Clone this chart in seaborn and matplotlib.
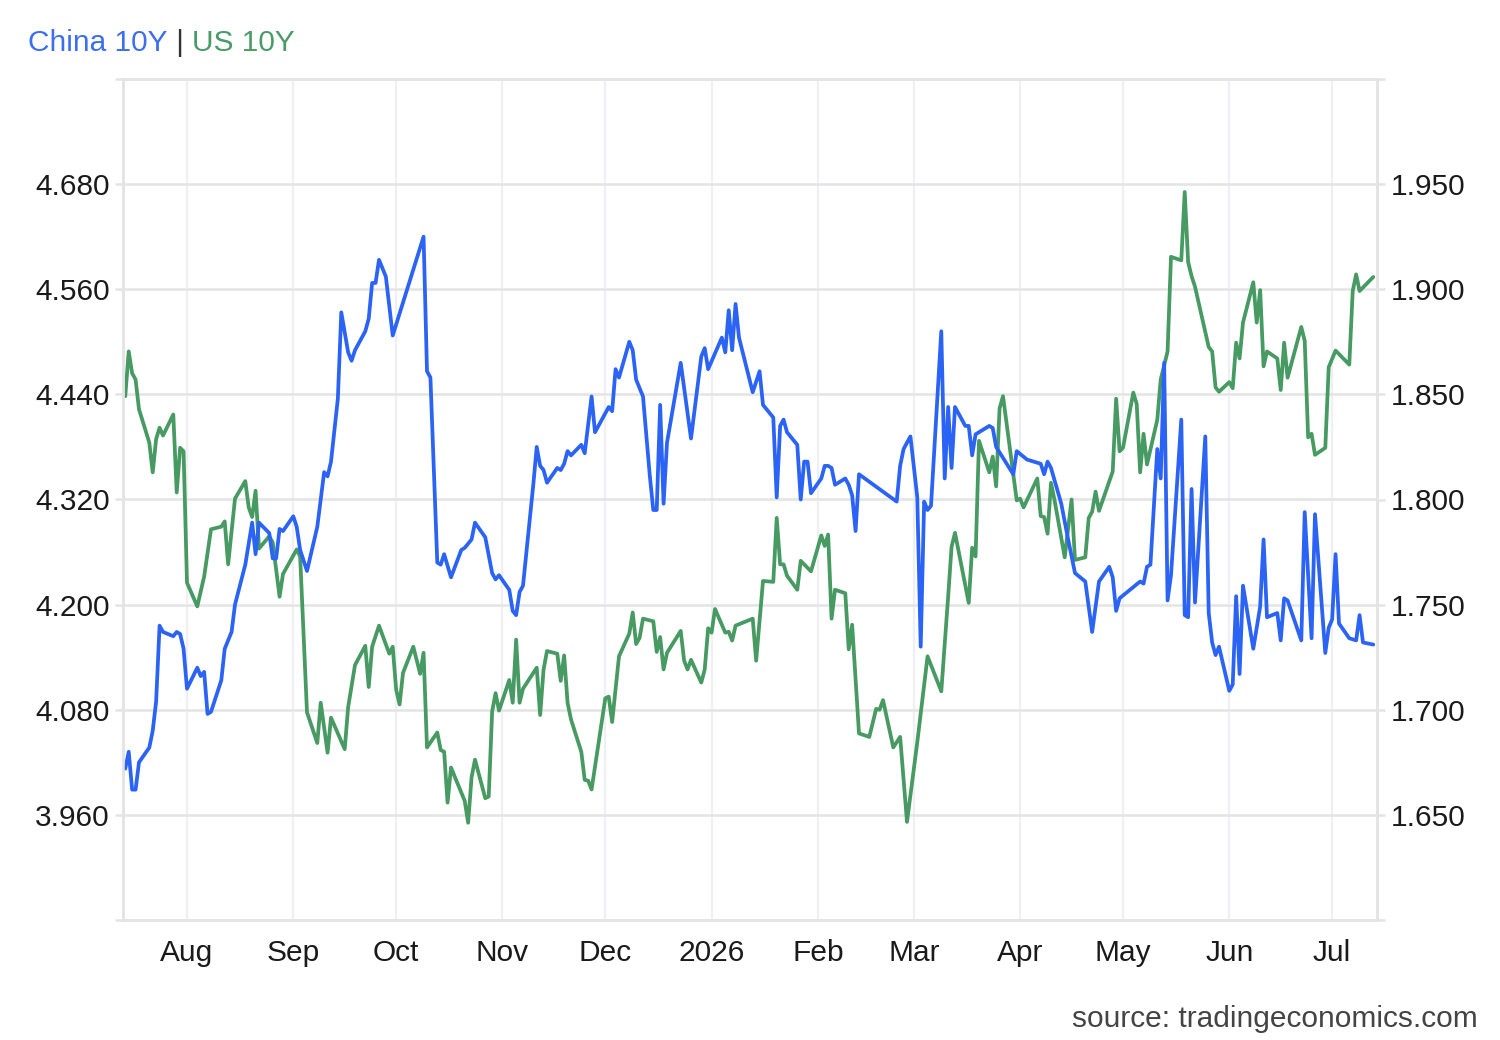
import matplotlib
matplotlib.use("Agg")
import matplotlib.pyplot as plt
import pandas as pd
import seaborn as sns

# ---------------- data ----------------
us_dates = [
    "2025-07-14", "2025-07-15", "2025-07-16", "2025-07-17", "2025-07-18", "2025-07-21", "2025-07-22",
    "2025-07-23", "2025-07-24", "2025-07-25", "2025-07-28", "2025-07-29", "2025-07-30", "2025-07-31",
    "2025-08-01", "2025-08-04", "2025-08-06", "2025-08-08", "2025-08-11", "2025-08-12", "2025-08-13",
    "2025-08-15", "2025-08-18", "2025-08-19", "2025-08-20", "2025-08-21", "2025-08-22", "2025-08-25",
    "2025-08-26", "2025-08-28", "2025-08-29", "2025-09-02", "2025-09-03", "2025-09-05", "2025-09-08",
    "2025-09-09", "2025-09-11", "2025-09-12", "2025-09-16", "2025-09-17", "2025-09-19", "2025-09-22",
    "2025-09-23", "2025-09-24", "2025-09-26", "2025-09-29", "2025-09-30", "2025-10-01", "2025-10-02",
    "2025-10-03", "2025-10-06", "2025-10-08", "2025-10-09", "2025-10-10", "2025-10-13", "2025-10-14",
    "2025-10-15", "2025-10-16", "2025-10-17", "2025-10-21", "2025-10-22", "2025-10-23", "2025-10-24",
    "2025-10-27", "2025-10-28", "2025-10-29", "2025-10-30", "2025-10-31", "2025-11-03", "2025-11-04",
    "2025-11-05", "2025-11-06", "2025-11-07", "2025-11-11", "2025-11-12", "2025-11-13", "2025-11-14",
    "2025-11-17", "2025-11-18", "2025-11-19", "2025-11-20", "2025-11-21", "2025-11-24", "2025-11-25",
    "2025-11-26", "2025-11-27", "2025-12-01", "2025-12-02", "2025-12-03", "2025-12-05", "2025-12-08",
    "2025-12-09", "2025-12-10", "2025-12-11", "2025-12-12", "2025-12-15", "2025-12-16", "2025-12-17",
    "2025-12-18", "2025-12-19", "2025-12-23", "2025-12-24", "2025-12-25", "2025-12-26", "2025-12-29",
    "2025-12-30", "2025-12-31", "2026-01-01", "2026-01-02", "2026-01-05", "2026-01-06", "2026-01-07",
    "2026-01-08", "2026-01-13", "2026-01-14", "2026-01-16", "2026-01-19", "2026-01-20", "2026-01-21",
    "2026-01-22", "2026-01-23", "2026-01-26", "2026-01-27", "2026-01-30", "2026-02-02", "2026-02-03",
    "2026-02-04", "2026-02-05", "2026-02-06", "2026-02-09", "2026-02-10", "2026-02-11", "2026-02-13",
    "2026-02-16", "2026-02-18", "2026-02-19", "2026-02-20", "2026-02-23", "2026-02-25", "2026-02-27",
    "2026-03-02", "2026-03-05", "2026-03-09", "2026-03-11", "2026-03-12", "2026-03-13", "2026-03-17",
    "2026-03-18", "2026-03-19", "2026-03-20", "2026-03-23", "2026-03-24", "2026-03-25", "2026-03-26",
    "2026-03-27", "2026-03-31", "2026-04-01", "2026-04-02", "2026-04-06", "2026-04-07", "2026-04-08",
    "2026-04-09", "2026-04-10", "2026-04-11", "2026-04-14", "2026-04-16", "2026-04-17", "2026-04-20",
    "2026-04-21", "2026-04-22", "2026-04-23", "2026-04-24", "2026-04-28", "2026-04-29", "2026-04-30",
    "2026-05-01", "2026-05-04", "2026-05-05", "2026-05-06", "2026-05-07", "2026-05-08", "2026-05-11",
    "2026-05-12", "2026-05-14", "2026-05-15", "2026-05-18", "2026-05-19", "2026-05-20", "2026-05-21",
    "2026-05-22", "2026-05-26", "2026-05-27", "2026-05-28", "2026-05-29", "2026-06-01", "2026-06-02",
    "2026-06-03", "2026-06-04", "2026-06-05", "2026-06-08", "2026-06-09", "2026-06-10", "2026-06-11",
    "2026-06-12", "2026-06-15", "2026-06-16", "2026-06-17", "2026-06-18", "2026-06-22", "2026-06-23",
    "2026-06-24", "2026-06-25", "2026-06-26", "2026-06-29", "2026-06-30", "2026-07-02", "2026-07-06",
    "2026-07-07", "2026-07-08", "2026-07-09", "2026-07-13",
]
us_values = [
    4.438, 4.489, 4.464, 4.457, 4.423, 4.385, 4.351,
    4.389, 4.402, 4.393, 4.417, 4.328, 4.379, 4.375,
    4.225, 4.198, 4.232, 4.286, 4.289, 4.295, 4.246,
    4.321, 4.341, 4.311, 4.300, 4.330, 4.264, 4.278,
    4.271, 4.209, 4.235, 4.263, 4.255, 4.077, 4.042,
    4.088, 4.031, 4.071, 4.035, 4.083, 4.131, 4.153,
    4.106, 4.152, 4.176, 4.144, 4.152, 4.103, 4.086,
    4.122, 4.152, 4.121, 4.145, 4.037, 4.054, 4.034,
    4.032, 3.974, 4.014, 3.976, 3.951, 4.003, 4.023,
    3.979, 3.981, 4.078, 4.099, 4.079, 4.114, 4.088,
    4.160, 4.088, 4.104, 4.128, 4.074, 4.126, 4.147,
    4.144, 4.113, 4.142, 4.088, 4.069, 4.032, 4.000,
    3.999, 3.989, 4.093, 4.095, 4.066, 4.141, 4.167,
    4.191, 4.155, 4.162, 4.184, 4.181, 4.146, 4.163,
    4.126, 4.145, 4.170, 4.136, 4.126, 4.137, 4.111,
    4.126, 4.173, 4.168, 4.195, 4.168, 4.169, 4.159,
    4.176, 4.184, 4.136, 4.227, 4.226, 4.299, 4.246,
    4.246, 4.233, 4.217, 4.250, 4.238, 4.279, 4.267,
    4.280, 4.184, 4.217, 4.213, 4.149, 4.177, 4.053,
    4.049, 4.081, 4.080, 4.091, 4.037, 4.049, 3.952,
    4.043, 4.141, 4.101, 4.209, 4.266, 4.282, 4.202,
    4.265, 4.255, 4.387, 4.351, 4.369, 4.335, 4.424,
    4.438, 4.319, 4.321, 4.311, 4.344, 4.301, 4.300,
    4.281, 4.339, 4.320, 4.254, 4.320, 4.251, 4.254,
    4.299, 4.306, 4.329, 4.307, 4.352, 4.435, 4.375,
    4.379, 4.442, 4.429, 4.351, 4.395, 4.360, 4.411,
    4.457, 4.489, 4.597, 4.593, 4.671, 4.591, 4.575,
    4.563, 4.494, 4.489, 4.448, 4.443, 4.454, 4.447,
    4.499, 4.481, 4.522, 4.568, 4.522, 4.559, 4.472,
    4.489, 4.481, 4.445, 4.499, 4.459, 4.517, 4.501,
    4.391, 4.395, 4.371, 4.379, 4.471, 4.490, 4.474,
    4.558, 4.577, 4.558, 4.574,
]

cn_dates = [
    "2025-07-14", "2025-07-15", "2025-07-16", "2025-07-17", "2025-07-18", "2025-07-21", "2025-07-22",
    "2025-07-23", "2025-07-24", "2025-07-25", "2025-07-28", "2025-07-29", "2025-07-30", "2025-07-31",
    "2025-08-01", "2025-08-04", "2025-08-05", "2025-08-06", "2025-08-07", "2025-08-08", "2025-08-11",
    "2025-08-12", "2025-08-13", "2025-08-14", "2025-08-15", "2025-08-18", "2025-08-20", "2025-08-21",
    "2025-08-22", "2025-08-25", "2025-08-26", "2025-08-27", "2025-08-28", "2025-08-29", "2025-09-01",
    "2025-09-02", "2025-09-03", "2025-09-05", "2025-09-08", "2025-09-10", "2025-09-11", "2025-09-12",
    "2025-09-14", "2025-09-15", "2025-09-17", "2025-09-18", "2025-09-19", "2025-09-22", "2025-09-23",
    "2025-09-24", "2025-09-25", "2025-09-26", "2025-09-28", "2025-09-30", "2025-10-09", "2025-10-10",
    "2025-10-11", "2025-10-13", "2025-10-14", "2025-10-15", "2025-10-17", "2025-10-20", "2025-10-21",
    "2025-10-23", "2025-10-24", "2025-10-27", "2025-10-29", "2025-10-30", "2025-10-31", "2025-11-03",
    "2025-11-04", "2025-11-05", "2025-11-06", "2025-11-07", "2025-11-10", "2025-11-11", "2025-11-12",
    "2025-11-13", "2025-11-14", "2025-11-17", "2025-11-18", "2025-11-19", "2025-11-20", "2025-11-21",
    "2025-11-24", "2025-11-25", "2025-11-27", "2025-11-28", "2025-12-02", "2025-12-03", "2025-12-04",
    "2025-12-05", "2025-12-08", "2025-12-09", "2025-12-10", "2025-12-12", "2025-12-14", "2025-12-15",
    "2025-12-16", "2025-12-17", "2025-12-18", "2025-12-19", "2025-12-23", "2025-12-26", "2025-12-29",
    "2025-12-30", "2025-12-31", "2026-01-04", "2026-01-05", "2026-01-06", "2026-01-07", "2026-01-08",
    "2026-01-09", "2026-01-13", "2026-01-15", "2026-01-16", "2026-01-19", "2026-01-20", "2026-01-21",
    "2026-01-22", "2026-01-23", "2026-01-26", "2026-01-27", "2026-01-28", "2026-01-29", "2026-01-30",
    "2026-02-02", "2026-02-03", "2026-02-04", "2026-02-05", "2026-02-06", "2026-02-09", "2026-02-10",
    "2026-02-11", "2026-02-12", "2026-02-13", "2026-02-24", "2026-02-25", "2026-02-26", "2026-02-28",
    "2026-03-02", "2026-03-03", "2026-03-04", "2026-03-05", "2026-03-06", "2026-03-09", "2026-03-10",
    "2026-03-11", "2026-03-12", "2026-03-13", "2026-03-16", "2026-03-17", "2026-03-18", "2026-03-19",
    "2026-03-23", "2026-03-24", "2026-03-25", "2026-03-30", "2026-03-31", "2026-04-03", "2026-04-07",
    "2026-04-08", "2026-04-09", "2026-04-10", "2026-04-13", "2026-04-15", "2026-04-17", "2026-04-20",
    "2026-04-22", "2026-04-24", "2026-04-27", "2026-04-28", "2026-04-29", "2026-04-30", "2026-05-06",
    "2026-05-07", "2026-05-08", "2026-05-09", "2026-05-11", "2026-05-12", "2026-05-13", "2026-05-14",
    "2026-05-15", "2026-05-18", "2026-05-19", "2026-05-20", "2026-05-21", "2026-05-22", "2026-05-25",
    "2026-05-26", "2026-05-27", "2026-05-28", "2026-05-29", "2026-06-01", "2026-06-02", "2026-06-03",
    "2026-06-04", "2026-06-05", "2026-06-08", "2026-06-10", "2026-06-11", "2026-06-12", "2026-06-15",
    "2026-06-16", "2026-06-17", "2026-06-18", "2026-06-22", "2026-06-23", "2026-06-25", "2026-06-26",
    "2026-06-29", "2026-06-30", "2026-07-01", "2026-07-02", "2026-07-03", "2026-07-06", "2026-07-08",
    "2026-07-09", "2026-07-10", "2026-07-13",
]
cn_values = [
    1.672, 1.680, 1.662, 1.662, 1.675, 1.682, 1.690,
    1.704, 1.740, 1.737, 1.735, 1.737, 1.736, 1.729,
    1.710, 1.720, 1.716, 1.718, 1.698, 1.699, 1.714,
    1.729, 1.733, 1.737, 1.750, 1.769, 1.789, 1.774,
    1.789, 1.784, 1.772, 1.772, 1.786, 1.785, 1.792,
    1.787, 1.776, 1.766, 1.787, 1.813, 1.811, 1.818,
    1.848, 1.889, 1.870, 1.866, 1.871, 1.880, 1.886,
    1.903, 1.903, 1.914, 1.906, 1.878, 1.925, 1.861,
    1.858, 1.770, 1.769, 1.774, 1.763, 1.776, 1.777,
    1.781, 1.789, 1.782, 1.765, 1.762, 1.764, 1.757,
    1.747, 1.745, 1.756, 1.759, 1.807, 1.825, 1.816,
    1.814, 1.808, 1.815, 1.814, 1.817, 1.823, 1.821,
    1.826, 1.822, 1.849, 1.832, 1.844, 1.842, 1.862,
    1.858, 1.875, 1.871, 1.857, 1.849, 1.811, 1.795,
    1.795, 1.845, 1.798, 1.827, 1.865, 1.829, 1.868,
    1.872, 1.862, 1.877, 1.870, 1.890, 1.871, 1.893,
    1.877, 1.851, 1.861, 1.845, 1.839, 1.801, 1.835,
    1.838, 1.832, 1.826, 1.800, 1.818, 1.818, 1.803,
    1.810, 1.816, 1.816, 1.815, 1.807, 1.810, 1.807,
    1.802, 1.785, 1.812, 1.799, 1.816, 1.824, 1.830,
    1.801, 1.730, 1.799, 1.795, 1.797, 1.880, 1.810,
    1.844, 1.815, 1.844, 1.835, 1.835, 1.821, 1.831,
    1.835, 1.834, 1.825, 1.812, 1.823, 1.819, 1.817,
    1.812, 1.818, 1.815, 1.798, 1.781, 1.765, 1.761,
    1.737, 1.761, 1.768, 1.763, 1.747, 1.753, 1.761,
    1.760, 1.768, 1.769, 1.824, 1.810, 1.865, 1.752,
    1.764, 1.838, 1.745, 1.744, 1.805, 1.751, 1.830,
    1.746, 1.732, 1.726, 1.730, 1.709, 1.712, 1.754,
    1.717, 1.759, 1.729, 1.749, 1.781, 1.744, 1.746,
    1.733, 1.753, 1.752, 1.733, 1.794, 1.734, 1.793,
    1.727, 1.739, 1.743, 1.774, 1.741, 1.734, 1.733,
    1.745, 1.732, 1.731,
]

month_ticks = ["2025-08-01", "2025-09-01", "2025-10-01", "2025-11-01", "2025-12-01", "2026-01-01",
               "2026-02-01", "2026-03-01", "2026-04-01", "2026-05-01", "2026-06-01", "2026-07-01"]
month_labels = ["Aug", "Sep", "Oct", "Nov", "Dec", "2026", "Feb", "Mar", "Apr", "May", "Jun", "Jul"]

us_ticks = [3.84, 3.96, 4.08, 4.20, 4.32, 4.44, 4.56, 4.68, 4.80]
us_tick_labels = ["", "3.960", "4.080", "4.200", "4.320", "4.440", "4.560", "4.680", ""]
cn_ticks = [1.60, 1.65, 1.70, 1.75, 1.80, 1.85, 1.90, 1.95, 2.00]
cn_tick_labels = ["", "1.650", "1.700", "1.750", "1.800", "1.850", "1.900", "1.950", ""]

series_names = ["China 10Y", "US 10Y"]
source_text = "source: tradingeconomics.com"

# ---------------- style ----------------
BLUE = "#2b63f5"
GREEN = "#469a62"
TITLE_BLUE = "#3b6ff0"
TITLE_GREEN = "#4a9b68"
GRID_H = "#e4e4e4"
GRID_V = "#eef0f3"
TXT = "#1a1a1a"
FS = 21.5
LW = 2.7

sns.set_theme(style="white")
plt.rcParams["font.family"] = ["Liberation Sans", "DejaVu Sans"]

W, H = 1500, 1040
fig = plt.figure(figsize=(W / 100, H / 100), dpi=100)
fig.patch.set_facecolor("white")
ax = fig.add_axes([123 / W, 1 - 920 / H, (1377 - 123) / W, (920 - 79) / H])
ax2 = ax.twinx()

us_df = pd.DataFrame({"date": pd.to_datetime(us_dates), "yield": us_values})
cn_df = pd.DataFrame({"date": pd.to_datetime(cn_dates), "yield": cn_values})

sns.lineplot(data=us_df, x="date", y="yield", ax=ax, color=GREEN, linewidth=LW,
             estimator=None, legend=False)
sns.lineplot(data=cn_df, x="date", y="yield", ax=ax2, color=BLUE, linewidth=LW,
             estimator=None, legend=False)

ax.set_xlim(pd.Timestamp("2025-07-13 08:00"), pd.Timestamp("2026-07-14 02:00"))
ax.set_ylim(3.84, 4.80)
ax2.set_ylim(1.60, 2.00)

ax.set_xticks(pd.to_datetime(month_ticks))
ax.set_xticklabels(month_labels)
ax.set_yticks(us_ticks)
ax.set_yticklabels(us_tick_labels)
ax2.set_yticks(cn_ticks)
ax2.set_yticklabels(cn_tick_labels)

ax.set_xlabel("")
ax.set_ylabel("")
ax2.set_xlabel("")
ax2.set_ylabel("")

ax.set_axisbelow(True)
ax.grid(False)
ax.xaxis.grid(True, color=GRID_V, linewidth=1.6)
ax.yaxis.grid(True, color=GRID_H, linewidth=1.8)
ax2.grid(False)

for a in (ax, ax2):
    for side in ("left", "right", "top", "bottom"):
        a.spines[side].set_color(GRID_H)
        a.spines[side].set_linewidth(1.8)
        a.spines[side].set_visible(True)

ax.tick_params(axis="x", bottom=True, length=0, pad=14, labelsize=FS, labelcolor=TXT)
ax.tick_params(axis="y", left=True, right=False, length=6, width=1.8, color=GRID_H,
               pad=3.5, labelsize=FS, labelcolor=TXT)
ax2.tick_params(axis="y", right=True, left=False, length=6, width=1.8, color=GRID_H,
                pad=4, labelsize=FS, labelcolor=TXT)

# ---------------- title pieces ----------------
y_title = 1 - 51 / H
t1 = fig.text(28 / W, y_title, series_names[0], color=TITLE_BLUE, fontsize=FS,
              ha="left", va="baseline")
fig.canvas.draw()
r = fig.canvas.get_renderer()
x1 = t1.get_window_extent(r).x1
t2 = fig.text(x1 / W, y_title, " | ", color="#333333", fontsize=FS, ha="left", va="baseline")
fig.canvas.draw()
x2 = t2.get_window_extent(r).x1
fig.text(x2 / W, y_title, series_names[1], color=TITLE_GREEN, fontsize=FS,
         ha="left", va="baseline")

fig.text(1478 / W, 1 - 1027 / H, source_text, color="#444444", fontsize=FS,
         ha="right", va="baseline")

fig.savefig("out.png", dpi=100, facecolor="white")
